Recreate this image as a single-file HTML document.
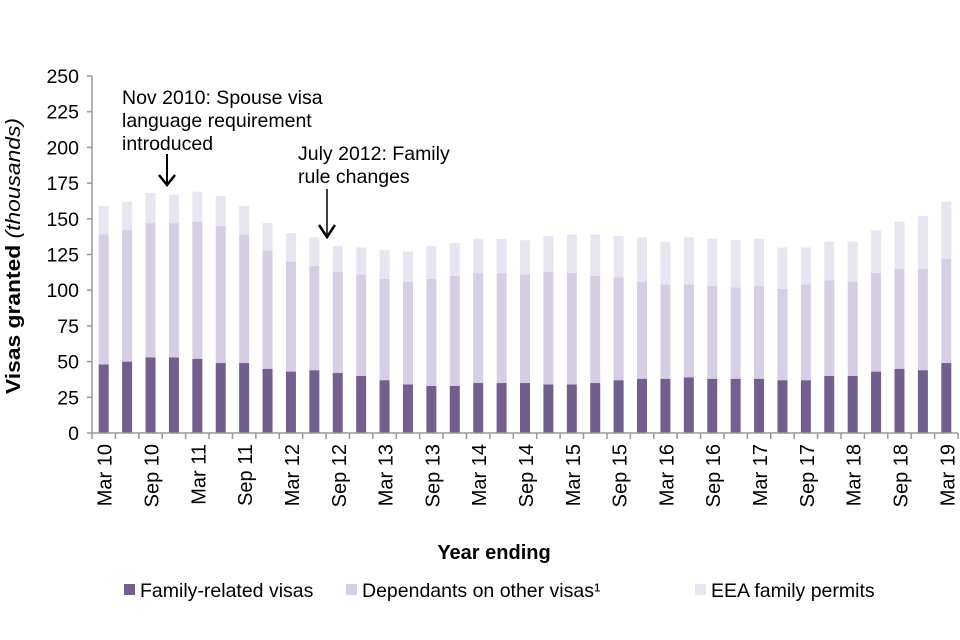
<!DOCTYPE html>
<html><head><meta charset="utf-8"><style>
body{margin:0;background:#fff;font-family:"Liberation Sans",sans-serif;}
svg{display:block}
text{font-family:"Liberation Sans",sans-serif;fill:#000}
</style></head><body>
<svg id="chart" width="960" height="640" viewBox="0 0 960 640" xmlns="http://www.w3.org/2000/svg">
<g id="bars"></g>
<g id="axes"></g>
<text transform="translate(20,256) rotate(-90)" text-anchor="middle" font-size="20" font-weight="bold" textLength="276" lengthAdjust="spacingAndGlyphs">Visas granted <tspan font-style="italic" font-weight="normal">(thousands)</tspan></text>
<text x="494" y="559" text-anchor="middle" font-size="20" font-weight="bold">Year ending</text>
<g>
<text x="122" y="104" font-size="19.5">Nov 2010: Spouse visa</text>
<text x="122" y="127" font-size="19.5">language requirement</text>
<text x="122" y="150" font-size="19.5">introduced</text>
<line x1="167" y1="154" x2="167" y2="183" stroke="#000" stroke-width="2"/>
<polyline points="159,175 167,185 175,175" fill="none" stroke="#000" stroke-width="2.5"/>
</g>
<g>
<text x="298" y="160" font-size="19.5">July 2012: Family</text>
<text x="298" y="183" font-size="19.5">rule changes</text>
<line x1="327" y1="189" x2="327" y2="236" stroke="#000" stroke-width="1.5"/>
<polyline points="319,225 327,237 335,225" fill="none" stroke="#000" stroke-width="2.5"/>
</g>
<g>
<rect x="124" y="584" width="11" height="11" fill="#735e8e"/>
<text x="140" y="597" font-size="19.5">Family-related visas</text>
<rect x="346" y="584" width="11" height="11" fill="#d6cee4"/>
<text x="362" y="597" font-size="19.5">Dependants on other visas¹</text>
<rect x="695" y="584" width="11" height="11" fill="#e9e5f0"/>
<text x="711" y="597" font-size="19.5">EEA family permits</text>
</g>
</svg>
<script>
const categories=["Mar 10","Jun 10","Sep 10","Dec 10","Mar 11","Jun 11","Sep 11","Dec 11","Mar 12","Jun 12","Sep 12","Dec 12","Mar 13","Jun 13","Sep 13","Dec 13","Mar 14","Jun 14","Sep 14","Dec 14","Mar 15","Jun 15","Sep 15","Dec 15","Mar 16","Jun 16","Sep 16","Dec 16","Mar 17","Jun 17","Sep 17","Dec 17","Mar 18","Jun 18","Sep 18","Dec 18","Mar 19"];
const familyVisas=[48,50,53,53,52,49,49,45,43,44,42,40,37,34,33,33,35,35,35,34,34,35,37,38,38,39,38,38,38,37,37,40,40,43,45,44,49];
const dependants=[91,92,94,94,96,96,90,83,77,73,71,71,71,72,75,77,77,77,76,79,78,75,72,68,66,65,65,64,65,64,67,67,66,69,70,71,73];
const eeaPermits=[20,20,21,20,21,21,20,19,20,20,18,19,20,21,23,23,24,24,24,25,27,29,29,31,30,33,33,33,33,29,26,27,28,30,33,37,40];
const yTicks=[0,25,50,75,100,125,150,175,200,225,250];
const NS="http://www.w3.org/2000/svg";
const X0=92,X1=958,Y0=433,Y1=76,YMAX=250;
const slot=(X1-X0)/categories.length, bw=10;
const y=v=>Y0-(v/YMAX)*(Y0-Y1);
const xc=i=>X0+slot*(i+0.5);
const bars=document.getElementById('bars'),axes=document.getElementById('axes');
function mk(tag,at,parent){const e=document.createElementNS(NS,tag);for(const k in at)e.setAttribute(k,at[k]);parent.appendChild(e);return e;}
categories.forEach((c,i)=>{
  const s=[[familyVisas[i],'#735e8e','family'],[dependants[i],'#d6cee4','dependants'],[eeaPermits[i],'#e9e5f0','eea']];
  let base=0;
  s.forEach(([v,col,n])=>{
    const r=mk('rect',{x:xc(i)-bw/2,y:y(base+v),width:bw,height:y(base)-y(base+v),fill:col},bars);
    
    
    base+=v;
  });
});
mk('line',{x1:X0,y1:Y1,x2:X0,y2:Y0,stroke:'#999','stroke-width':1.5},axes);
mk('line',{x1:X0,y1:Y0,x2:X1,y2:Y0,stroke:'#999','stroke-width':1.5},axes);
yTicks.forEach(t=>{
  mk('line',{x1:X0-5,y1:y(t),x2:X0,y2:y(t),stroke:'#999','stroke-width':1.5},axes);
  const tx=mk('text',{x:X0-13,y:y(t)+7,'text-anchor':'end','font-size':19.5},axes);
  
  
  tx.textContent=t;
});
for(let i=0;i<=categories.length;i++){
  mk('line',{x1:X0+slot*i,y1:Y0,x2:X0+slot*i,y2:Y0+6,stroke:'#999','stroke-width':1.5},axes);
}
categories.forEach((c,i)=>{
  if(i%2)return;
  const tx=mk('text',{transform:`translate(${xc(i)+8},444) rotate(-90)`,'text-anchor':'end','font-size':20},axes);
  
  
  tx.textContent=c;
});
</script>
</body></html>
